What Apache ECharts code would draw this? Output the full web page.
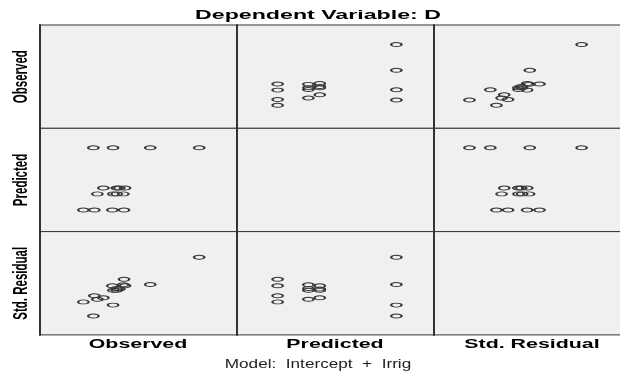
<!DOCTYPE html>
<html>
<head>
<meta charset="utf-8">
<title>Dependent Variable: D</title>
<script src="https://cdn.jsdelivr.net/npm/echarts@6.0.0/dist/echarts.min.js"></script>
<style>
  html, body { margin: 0; padding: 0; background: #ffffff; }
  #chart { width: 620px; height: 374px; }
</style>
</head>
<body>
<div id="chart"></div>
<script>
// Scatterplot matrix of the regression diagnostics for D (model: Intercept + Irrig)
const variables = ['Observed', 'Predicted', 'Std. Residual'];

const observed = [4.40, 5.50, 7.30, 8.47, 5.80, 7.40, 7.74, 8.40, 6.40, 7.74, 8.00, 8.57, 5.40, 7.37, 11.10, 16.00];
const predicted = [6.42, 6.42, 6.42, 6.42, 7.34, 7.34, 7.34, 7.34, 7.68, 7.68, 7.68, 7.68, 9.97, 9.97, 9.97, 9.97];
const stdResidual = [-0.776, -0.353, 0.338, 0.787, -0.589, 0.025, 0.156, 0.409, -0.492, 0.023, 0.123, 0.342, -1.755, -0.998, 0.434, 2.316];

const axisMin = [0, 5.19, -3.06];
const axisMax = [19.74, 11.08, 4.09];

const titleText = 'Dependent Variable: D';
const footerText = 'Model:  Intercept  +  Irrig';

// panel layout
const left0 = 39.5, colW = 197, top0 = 25, rowH = 103.3;
const frameColor = '#333333';
const stretch = 1.8;   // horizontal text stretch

const values = [observed, predicted, stdResidual];

const ellipse = 'path://M1,0 C1,0.5523 0.5523,1 0,1 C-0.5523,1 -1,0.5523 -1,0 C-1,-0.5523 -0.5523,-1 0,-1 C0.5523,-1 1,-0.5523 1,0 Z';

const grids = [], xAxes = [], yAxes = [], series = [];
for (let r = 0; r < 3; r++) {
  for (let c = 0; c < 3; c++) {
    const idx = r * 3 + c;
    grids.push({
      left: left0 + c * colW, top: top0 + r * rowH, width: colW, height: rowH,
      show: true, backgroundColor: '#f0f0f0', borderColor: frameColor, borderWidth: 1,
      containLabel: false, outerBoundsMode: 'none'
    });
    xAxes.push({
      type: 'value', gridIndex: idx, min: axisMin[c], max: axisMax[c],
      axisLine: { show: false }, axisTick: { show: false }, axisLabel: { show: false }, splitLine: { show: false }
    });
    yAxes.push({
      type: 'value', gridIndex: idx, min: axisMin[r], max: axisMax[r],
      axisLine: { show: true, onZero: false, lineStyle: { color: frameColor, width: 2 } },
      axisTick: { show: false }, axisLabel: { show: false }, splitLine: { show: false }
    });
    if (r !== c) {
      series.push({
        type: 'scatter', xAxisIndex: idx, yAxisIndex: idx,
        data: values[c].map((v, k) => [v, values[r][k]]),
        symbol: ellipse, symbolSize: [10.4, 4],
        itemStyle: { color: 'rgba(0,0,0,0)', borderColor: '#383838', borderWidth: 1.5, opacity: 1 },
        silent: true, animation: false
      });
    }
  }
}

const graphics = [];
graphics.push({
  type: 'text', x: 318, y: 16, scaleX: 1.93, scaleY: 1,
  style: { text: titleText, font: 'bold 12px "Liberation Sans", Arial, sans-serif', fill: '#000', align: 'center', verticalAlign: 'middle' }
});
variables.forEach((name, i) => {
  graphics.push({
    type: 'text', x: left0 + (i + 0.5) * colW, y: 344.3, scaleX: 1.78, scaleY: 1,
    style: { text: name, font: 'bold 12px "Liberation Sans", Arial, sans-serif', fill: '#000', align: 'center', verticalAlign: 'middle' }
  });
  graphics.push({
    type: 'text', x: 20.8, y: top0 + (i + 0.5) * rowH, rotation: Math.PI / 2, scaleX: 1, scaleY: stretch,
    style: { text: name, font: 'bold 11.5px "Liberation Sans", Arial, sans-serif', fill: '#000', align: 'center', verticalAlign: 'middle' }
  });
});
graphics.push({
  type: 'text', x: 318, y: 364.5, scaleX: 1.43, scaleY: 1,
  style: { text: footerText, font: '12px "Liberation Sans", Arial, sans-serif', fill: '#222', align: 'center', verticalAlign: 'middle' }
});

const chart = echarts.init(document.getElementById('chart'), null, { renderer: 'canvas' });
chart.setOption({
  animation: false,
  backgroundColor: '#ffffff',
  grid: grids,
  xAxis: xAxes,
  yAxis: yAxes,
  series: series,
  graphic: graphics
});
</script>
</body>
</html>
